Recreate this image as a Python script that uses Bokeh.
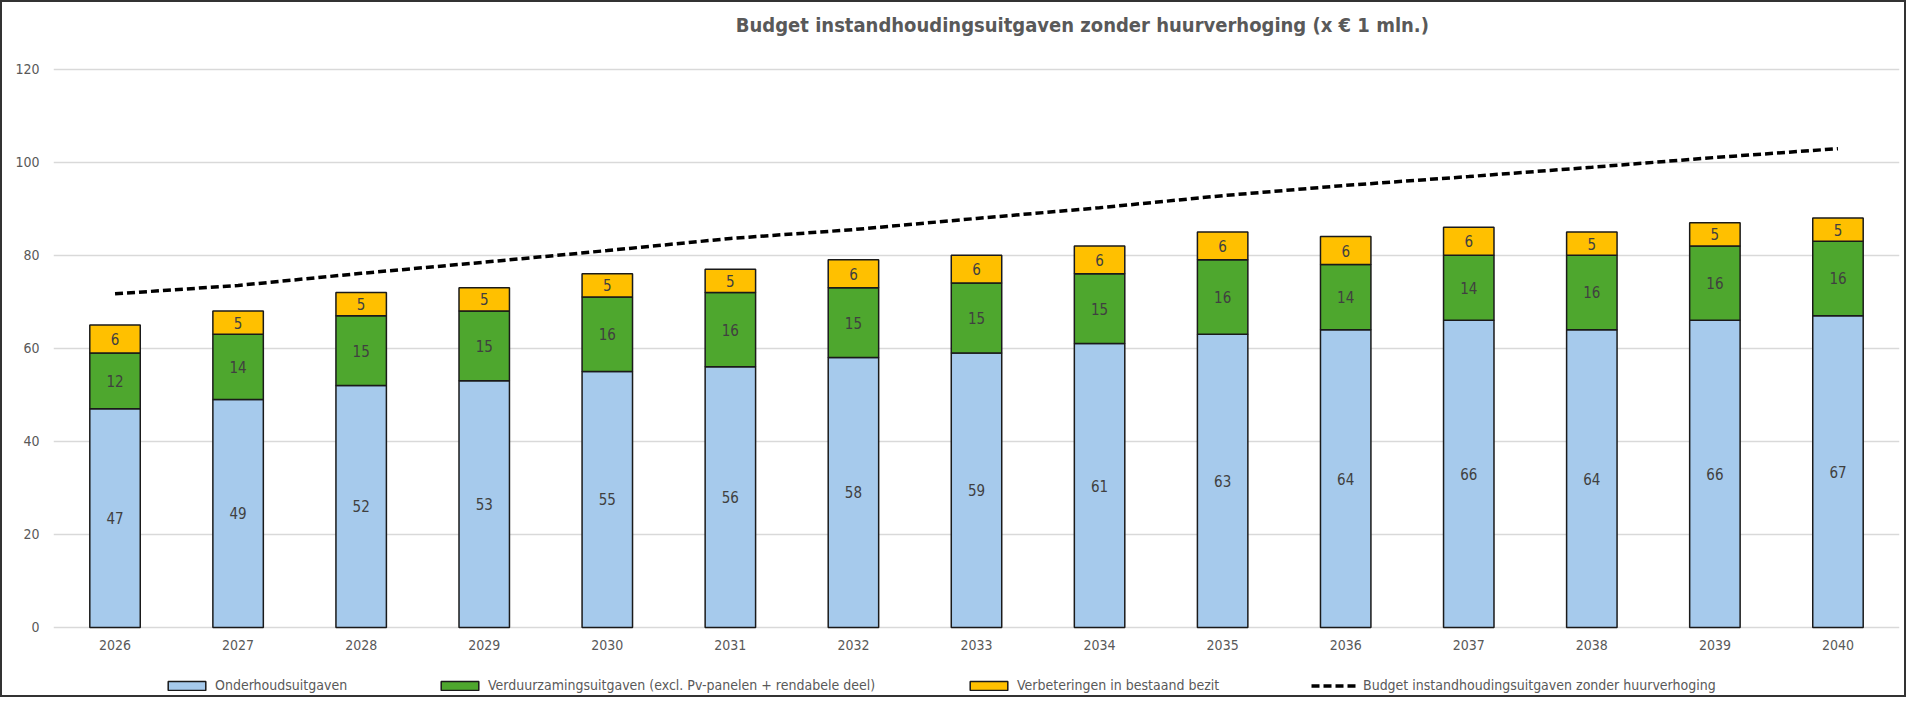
from bokeh.plotting import figure
from bokeh.models import (ColumnDataSource, LabelSet, Label, Legend,
                          LegendItem, FixedTicker)
from bokeh.core.properties import value
from bokeh.embed import file_html
from bokeh.resources import INLINE

# values (x EUR 1 mln.)
years = [str(y) for y in range(2026, 2041)]
onderhoud = [47, 49, 52, 53, 55, 56, 58, 59, 61, 63, 64, 66, 64, 66, 67]
verduurzaming = [12, 14, 15, 15, 16, 16, 15, 15, 15, 16, 14, 14, 16, 16, 16]
verbeteringen = [6, 5, 5, 5, 5, 5, 6, 6, 6, 6, 6, 6, 5, 5, 5]
budget = [71.7, 73.5, 76.1, 78.5, 81.0, 83.6, 85.5, 87.9, 90.2, 92.8,
          95.0, 96.9, 98.9, 101.0, 102.9]
y_ticks = [0, 20, 40, 60, 80, 100, 120]

title = "Budget instandhoudingsuitgaven  zonder huurverhoging (x \u20ac 1 mln.)"
series = ["Onderhoudsuitgaven",
          "Verduurzamingsuitgaven (excl. Pv-panelen + rendabele deel)",
          "Verbeteringen in bestaand bezit"]
line_name = "Budget instandhoudingsuitgaven zonder huurverhoging"
colors = ["#A6CAEC", "#4EA72E", "#FFC000"]

FONT = "DejaVu Sans Condensed, Liberation Sans, sans-serif"
GREY = "#595959"

src = ColumnDataSource(dict(
    year=years,
    ond=onderhoud,
    ver=verduurzaming,
    vbt=verbeteringen,
    budget=budget,
    zero=[0] * len(years),
))

# the frame covers the title and legend area as well, so everything can be
# placed exactly; only 0..120 gets ticks and grid lines
p = figure(
    x_range=years,
    y_range=(-15.06, 133.88),
    width=1906,
    height=697,
    output_backend="svg",
    toolbar_location=None,
    min_border_left=51,
    min_border_right=9,
    min_border_top=2,
    min_border_bottom=2,
    outline_line_color=None,
)
p.x_range.range_padding = 0

bars = p.vbar_stack(["ond", "ver", "vbt"], x="year", width=0.41, source=src,
                    color=colors, line_color="#1a1a1a", line_width=1.5)
budget_line = p.line(x="year", y="budget", source=src, line_color="black",
                     line_width=3.5, line_dash="8 4")

# data labels in the middle of each segment
lab_src = ColumnDataSource(dict(
    year=years * 3,
    y=[o / 2 for o in onderhoud]
      + [o + v / 2 for o, v in zip(onderhoud, verduurzaming)]
      + [o + v + b / 2 for o, v, b in zip(onderhoud, verduurzaming, verbeteringen)],
    txt=[str(v) for v in onderhoud + verduurzaming + verbeteringen],
))
p.add_layout(LabelSet(x="year", y="y", text="txt", source=lab_src,
                      text_align="center", text_baseline="middle",
                      text_font=value(FONT), text_font_size="15px",
                      text_color="#404040"))

# category labels under the zero line
p.add_layout(LabelSet(x="year", y="zero", text="year", source=src,
                      y_offset=-18, text_align="center",
                      text_baseline="middle", text_font=value(FONT),
                      text_font_size="14px", text_color=GREY))

# chart title (x: middle of the category axis, nudged right like the original)
p.add_layout(Label(x=len(years) / 2, y=120, x_offset=109, y_offset=44,
                   text=title, text_align="center", text_baseline="middle",
                   text_font=FONT, text_font_size="20px",
                   text_font_style="bold", text_color=GREY))

# axes / grid
p.xaxis.visible = False
p.yaxis.ticker = FixedTicker(ticks=y_ticks)
p.yaxis.axis_line_color = None
p.yaxis.major_tick_line_color = None
p.yaxis.minor_tick_line_color = None
p.yaxis.major_label_text_font = FONT
p.yaxis.major_label_text_font_size = "14px"
p.yaxis.major_label_text_color = GREY
p.yaxis.major_label_standoff = 8
p.xgrid.grid_line_color = None
p.ygrid.grid_line_color = "#D9D9D9"
p.ygrid.grid_line_width = 1.5

# legend: one block per entry, placed like the original
entries = [(series[0], bars[0], 110), (series[1], bars[1], 383),
           (series[2], bars[2], 912), (line_name, budget_line, 1258)]
for label, rend, xpos in entries:
    p.add_layout(Legend(
        items=[LegendItem(label=label, renderers=[rend])],
        location=(xpos, 4), orientation="horizontal",
        glyph_width=47, glyph_height=11, label_standoff=5, label_height=16,
        label_text_font=FONT, label_text_font_size="14px",
        label_text_color=GREY, padding=0, margin=0, spacing=0,
        border_line_color=None, background_fill_alpha=0,
    ))

p.styles = {"border": "2px solid #333333"}

open("out.html", "w").write(file_html(p, INLINE))
